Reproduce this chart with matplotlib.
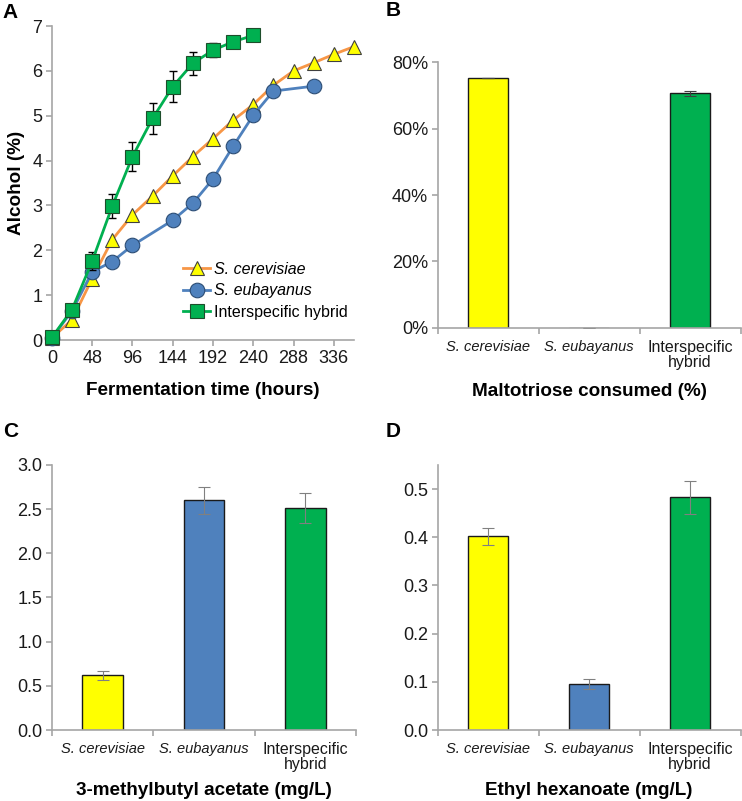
import matplotlib
matplotlib.use("Agg")
import matplotlib.pyplot as plt
import numpy as np

plt.rcParams['font.family'] = ['Liberation Sans', 'DejaVu Sans']

# panel A: alcohol over time
t_cer = [0, 24, 48, 72, 96, 120, 144, 168, 192, 216, 240, 264, 288, 312, 336, 360]
alc_cer = [0.05, 0.45, 1.37, 2.24, 2.79, 3.21, 3.66, 4.09, 4.49, 4.9, 5.25, 5.68, 6.0, 6.18, 6.37, 6.54]
t_eub = [0, 24, 48, 72, 96, 144, 168, 192, 216, 240, 264, 312]
alc_eub = [0.05, 0.65, 1.52, 1.75, 2.11, 2.67, 3.05, 3.59, 4.32, 5.01, 5.55, 5.66]
t_hyb = [0, 24, 48, 72, 96, 120, 144, 168, 192, 216, 240]
alc_hyb = [0.06, 0.68, 1.76, 2.99, 4.09, 4.94, 5.65, 6.17, 6.46, 6.65, 6.79]
err_hyb = [0.0, 0.0, 0.2, 0.27, 0.33, 0.35, 0.34, 0.26, 0.16, 0.05, 0.05]

# bar panels
strains = ["S. cerevisiae", "S. eubayanus", "Interspecific\nhybrid"]
maltotriose = [0.753, 0.0, 0.707]
maltotriose_err = [0.0, 0.0, 0.008]
methylbutyl = [0.62, 2.60, 2.51]
methylbutyl_err = [0.05, 0.15, 0.17]
ethylhex = [0.402, 0.095, 0.483]
ethylhex_err = [0.018, 0.01, 0.034]

bar_colors = ['#FFFF00', '#4F81BD', '#00B050']
grey = '#A6A6A6'
TICK = 13
TITLE = 13.6

fig = plt.figure(figsize=(7.42, 8.01), dpi=100)
axA = fig.add_axes([0.070, 0.5755, 0.407, 0.392])
axB = fig.add_axes([0.590, 0.591, 0.408, 0.331])
axC = fig.add_axes([0.070, 0.0886, 0.410, 0.331])
axD = fig.add_axes([0.590, 0.0886, 0.408, 0.331])


def style(ax):
    for s in ['top', 'right']:
        ax.spines[s].set_visible(False)
    for s in ['left', 'bottom']:
        ax.spines[s].set_color(grey)
        ax.spines[s].set_linewidth(1.2)
    ax.tick_params(colors=grey, labelcolor='#1A1A1A', labelsize=TICK, length=4, width=1.2, pad=3)


# A
style(axA)
axA.plot(t_cer, alc_cer, color='#F79646', lw=2, marker='^', ms=10, mfc='#FFFF00',
         mec='#404040', mew=0.8, label='S. cerevisiae', clip_on=False, zorder=3)
axA.plot(t_eub, alc_eub, color='#4F81BD', lw=2, marker='o', ms=10.5, mfc='#4F81BD',
         mec='#2C4D75', mew=0.8, label='S. eubayanus', clip_on=False, zorder=4)
axA.errorbar(t_hyb, alc_hyb, yerr=err_hyb, fmt='none', ecolor='black', elinewidth=1,
             capsize=3, zorder=5)
axA.plot(t_hyb, alc_hyb, color='#00B050', lw=2, marker='s', ms=9.5, mfc='#00B050',
         mec='#1E4D2B', mew=0.8, label='Interspecific hybrid', clip_on=False, zorder=6)
axA.set_xlim(0, 360)
axA.set_ylim(0, 7)
axA.set_xticks(np.arange(0, 337, 48))
axA.set_yticks(range(0, 8))
axA.set_xlabel('Fermentation time (hours)', fontsize=TITLE, fontweight='bold')
axA.xaxis.set_label_coords(0.5, -0.135)
axA.set_ylabel('Alcohol (%)', fontsize=TITLE, fontweight='bold')
axA.yaxis.set_label_coords(-0.09, 0.5)
leg = axA.legend(loc='upper left', frameon=False, fontsize=11.5, borderpad=0,
                 borderaxespad=0, handlelength=1.7, handletextpad=0.25, labelspacing=0.42,
                 bbox_to_anchor=(0.434, 0.25))
for txt in leg.get_texts()[:2]:
    txt.set_style('italic')

# bar panels
x = np.arange(3)


def bars(ax, vals, errs, ecol):
    style(ax)
    ax.bar(x, vals, width=0.4, color=bar_colors, edgecolor='#1A1A1A', linewidth=1,
           yerr=errs, ecolor=ecol, error_kw=dict(elinewidth=0.8, capsize=4, capthick=0.8))
    ax.set_xlim(-0.5, 2.5)
    ax.set_xticks([-0.5, 0.5, 1.5, 2.5])
    ax.set_xticklabels([])
    for i, s in enumerate(strains):
        hyb = 'hybrid' in s
        ax.text(i, -0.045, s, transform=ax.get_xaxis_transform(), ha='center', va='top',
                fontsize=11.5 if hyb else 10.5, style='normal' if hyb else 'italic',
                linespacing=1.0, color='#1A1A1A')


bars(axB, maltotriose, maltotriose_err, '#404040')
axB.set_ylim(0, 0.8)
axB.set_yticks([0, 0.2, 0.4, 0.6, 0.8])
axB.set_yticklabels(['0%', '20%', '40%', '60%', '80%'])
axB.set_xlabel('Maltotriose consumed (%)', fontsize=TITLE, fontweight='bold')
axB.xaxis.set_label_coords(0.5, -0.21)

bars(axC, methylbutyl, methylbutyl_err, '#808080')
axC.set_ylim(0, 3.0)
axC.set_yticks(np.arange(0, 3.01, 0.5))
axC.set_yticklabels(['%.1f' % v for v in np.arange(0, 3.01, 0.5)])
axC.set_xlabel('3-methylbutyl acetate (mg/L)', fontsize=TITLE, fontweight='bold')
axC.xaxis.set_label_coords(0.5, -0.195)

bars(axD, ethylhex, ethylhex_err, '#808080')
axD.set_ylim(0, 0.55)
axD.set_yticks(np.arange(0, 0.51, 0.1))
axD.set_yticklabels(['%.1f' % v for v in np.arange(0, 0.51, 0.1)])
axD.set_xlabel('Ethyl hexanoate (mg/L)', fontsize=TITLE, fontweight='bold')
axD.xaxis.set_label_coords(0.5, -0.195)

for lab, (fx, fy) in zip('ABCD', [(0.004, 0.985), (0.520, 0.9875), (0.004, 0.461), (0.520, 0.461)]):
    fig.text(fx, fy, lab, fontsize=15, fontweight='bold', ha='left', va='center')

fig.savefig('out.png', dpi=100)
